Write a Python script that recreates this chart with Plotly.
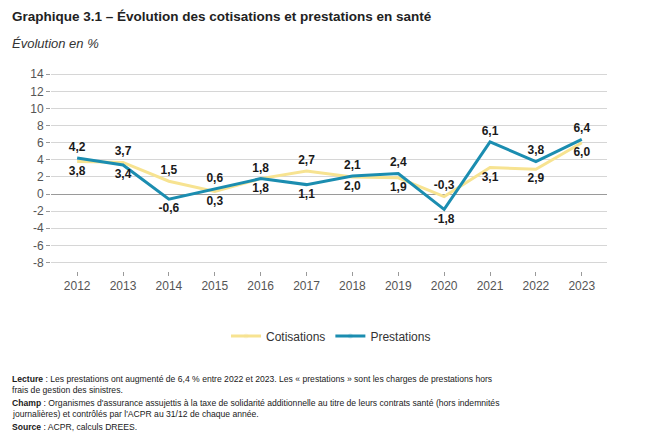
import plotly.graph_objects as go

years = [2012, 2013, 2014, 2015, 2016, 2017, 2018, 2019, 2020, 2021, 2022, 2023]
cotisations = [3.8, 3.7, 1.5, 0.3, 1.8, 2.7, 2.0, 1.9, -0.3, 3.1, 2.9, 6.0]
prestations = [4.2, 3.4, -0.6, 0.6, 1.8, 1.1, 2.1, 2.4, -1.8, 6.1, 3.8, 6.4]
y_ticks = list(range(-8, 15, 2))

YELLOW = "#F7E391"
BLUE = "#1B8DB0"
LABEL_FONT = dict(family="Liberation Sans, Arial", size=12, color="#1a1a1a", weight="bold")


def fmt(v):
    return f"{v:.1f}".replace(".", ",")


def positions(a, b):
    return ["top center" if x >= y else "bottom center" for x, y in zip(a, b)]


pos_c = positions(cotisations, prestations)
pos_p = positions(prestations, cotisations)
pos_p = [("bottom center" if (p == c and pc == "top center") else pc)
         for p, c, pc in zip(prestations, cotisations, pos_p)]

fig = go.Figure()
fig.add_trace(go.Scatter(
    x=years, y=cotisations, name="Cotisations", mode="lines+markers+text",
    line=dict(color=YELLOW, width=3),
    marker=dict(size=5, opacity=0),
    text=[fmt(v) for v in cotisations], textposition=pos_c,
    textfont=LABEL_FONT, cliponaxis=False,
))
fig.add_trace(go.Scatter(
    x=years, y=prestations, name="Prestations", mode="lines+markers+text",
    line=dict(color=BLUE, width=3),
    marker=dict(size=5, opacity=0),
    text=[fmt(v) for v in prestations], textposition=pos_p,
    textfont=LABEL_FONT, cliponaxis=False,
))

# page body has an 8px margin: work in reference pixels and shift
OFF = 8
W, H = 657 - OFF, 448 - OFF
L, T = 51 - OFF, 70 - OFF
R = W - (607 - OFF)
B = H - (271 - OFF)
pw = W - L - R
ph = H - T - B


def px(x):
    return (x - OFF - L) / pw


def py(y):
    return (H - B - (y - OFF)) / ph


NOTE_FONT = "Liberation Sans, Arial"
NS = 8.6
anns = [
    dict(text="<b>Graphique 3.1 – Évolution des cotisations et prestations en santé</b>",
         x=px(10), y=py(17), size=13.5, color="#222222", family="Liberation Sans, Arial"),
    dict(text="<i>Évolution en %</i>", x=px(10), y=py(43), size=13, color="#333333",
         family="Liberation Sans, Arial"),
    dict(text="<b>Lecture</b> : Les prestations ont augmenté de 6,4 % entre 2022 et 2023. Les « prestations » sont les charges de prestations hors",
         x=px(10), y=py(379), size=NS, color="#1a1a1a", family=NOTE_FONT),
    dict(text="frais de gestion des sinistres.",
         x=px(10), y=py(390), size=NS, color="#1a1a1a", family=NOTE_FONT),
    dict(text="<b>Champ</b> : Organismes d'assurance assujettis à la taxe de solidarité additionnelle au titre de leurs contrats santé (hors indemnités",
         x=px(10), y=py(403), size=NS, color="#1a1a1a", family=NOTE_FONT),
    dict(text="journalières) et contrôlés par l'ACPR au 31/12 de chaque année.",
         x=px(10), y=py(414), size=NS, color="#1a1a1a", family=NOTE_FONT),
    dict(text="<b>Source</b> : ACPR, calculs DREES.",
         x=px(10), y=py(427), size=NS, color="#1a1a1a", family=NOTE_FONT),
]

fig.update_layout(
    width=W, height=H,
    margin=dict(l=L, r=R, t=T, b=B),
    paper_bgcolor="white", plot_bgcolor="white",
    showlegend=True,
    legend=dict(orientation="h", x=px(331), y=py(336), xanchor="center", yanchor="middle",
                font=dict(family="Liberation Sans, Arial", size=12, color="#333333"),
                itemwidth=30),
    annotations=[dict(text=a["text"], x=a["x"], y=a["y"], xref="paper", yref="paper",
                      xanchor="left", yanchor="middle", showarrow=False,
                      font=dict(size=a["size"], color=a["color"], family=a["family"]))
                 for a in anns],
)
fig.update_xaxes(
    range=[2011.43, 2023.55], tickmode="array", tickvals=years,
    ticktext=[str(y) for y in years], showgrid=False, zeroline=False, showline=False,
    ticks="outside", ticklen=4, tickcolor="#9a9a9a",
    tickfont=dict(family="Liberation Sans, Arial", size=12, color="#555555"),
)
fig.update_yaxes(
    range=[-9, 14.5], tickmode="array", tickvals=y_ticks,
    ticktext=[str(v) for v in y_ticks],
    showgrid=True, gridcolor="#d6d6d6", gridwidth=1.2,
    zeroline=True, zerolinecolor="#9a9a9a", zerolinewidth=1.2,
    showline=False, ticks="outside", ticklen=4, tickcolor="#9a9a9a",
    tickfont=dict(family="Liberation Sans, Arial", size=12, color="#555555"),
)

fig.write_html("out.html")
